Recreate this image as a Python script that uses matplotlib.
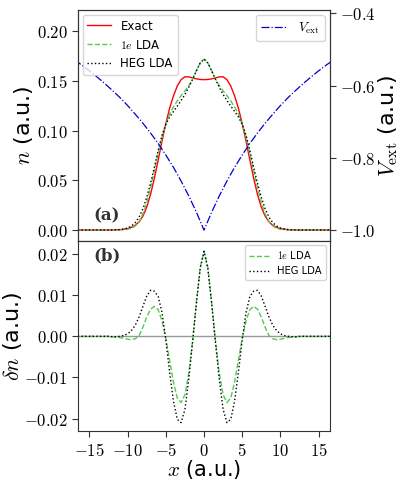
import numpy as np
import matplotlib
matplotlib.use("Agg")
import matplotlib.pyplot as plt
from matplotlib.ticker import FuncFormatter

plt.rcParams["mathtext.fontset"] = "cm"
plt.rcParams["font.family"] = ["DejaVu Sans"]

# half grid (x >= 0), curves are symmetric about x = 0
x_half = np.arange(0, 17.01, 0.5)
n_exact_half = [0.1512, 0.1514, 0.1520, 0.1530, 0.1540, 0.1541, 0.1512, 0.1448,
                0.1350, 0.1225, 0.1070, 0.0895, 0.0705, 0.0520, 0.0358, 0.0230,
                0.0140, 0.0082, 0.0047, 0.0026, 0.0014, 0.0008, 0.0004, 0.0002,
                0.0001] + [0.0] * 10
dn_1e_half = [0.0207, 0.0168, 0.0082, -0.0012, -0.0090, -0.0142, -0.0161, -0.0150,
              -0.0112, -0.0058, -0.0005, 0.0038, 0.0065, 0.0073, 0.0066, 0.0047,
              0.0022, 0.0002, -0.0006, -0.0008, -0.0007, -0.0005, -0.0003, -0.0002,
              -0.0001] + [0.0] * 10
dn_heg_half = [0.0207, 0.0165, 0.0080, -0.0015, -0.0105, -0.0178, -0.0210, -0.0202,
               -0.0158, -0.0088, -0.0008, 0.0058, 0.0097, 0.0110, 0.0112, 0.0098,
               0.0073, 0.0047, 0.0027, 0.0014, 0.0006, 0.0002, 0.0000, -0.0001,
               -0.0001] + [0.0] * 10

xv_half = np.arange(0, 18, 1.0)
v_half = [-1.000, -0.950, -0.905, -0.864, -0.826, -0.792, -0.760, -0.731, -0.704,
          -0.679, -0.655, -0.633, -0.613, -0.594, -0.576, -0.559, -0.543, -0.528]


def mirror(xh, yh):
    xh = np.asarray(xh)
    yh = np.asarray(yh)
    return np.concatenate([-xh[::-1], xh[1:]]), np.concatenate([yh[::-1], yh[1:]])


x, n_exact = mirror(x_half, n_exact_half)
_, dn_1e = mirror(x_half, dn_1e_half)
_, dn_heg = mirror(x_half, dn_heg_half)
xv, vext = mirror(xv_half, v_half)
n_1e = n_exact + dn_1e
n_heg = n_exact + dn_heg

c_green = "#55c855"
spine_c = "#333333"
fmt = FuncFormatter(lambda v, p: "$%.2f$" % v)

fig = plt.figure(figsize=(4.04, 4.84), dpi=100)
ax1 = fig.add_axes([0.193, 0.502, 0.624, 0.477])
ax2 = fig.add_axes([0.193, 0.109, 0.624, 0.393], sharex=ax1)
axv = ax1.twinx()

l1, = ax1.plot(x, n_exact, color="red", lw=1.0, label="Exact")
l2, = ax1.plot(x, n_1e, color=c_green, ls="--", lw=1.0, label="$1e$ LDA")
l3, = ax1.plot(x, n_heg, color="black", ls=":", lw=1.0, label="HEG LDA")
lv, = axv.plot(xv, vext, color="mediumblue", ls="-.", lw=0.9, label=r"$V_{\rm ext}$")

ax1.set_xlim(-16.5, 16.5)
ax1.set_ylim(-0.0111, 0.2211)
axv.set_ylim(-1.030, -0.391)
ax1.set_yticks([0.0, 0.05, 0.10, 0.15, 0.20])
axv.set_yticks([-1.0, -0.8, -0.6, -0.4])
ax1.yaxis.set_major_formatter(fmt)
axv.yaxis.set_major_formatter(FuncFormatter(lambda v, p: "$%.1f$" % v))
ax1.tick_params(axis="x", bottom=False, labelbottom=False)
ax1.set_ylabel("$n$ (a.u.)", fontsize=16, labelpad=1)
axv.set_ylabel(r"$V_{\rm ext}$ (a.u.)", fontsize=16, labelpad=0)

leg1 = axv.legend([l1, l2, l3], ["Exact", "$1e$ LDA", "HEG LDA"], loc="upper left",
                  fontsize=8.5, borderaxespad=0.4)
axv.add_artist(leg1)
axv.legend([lv], [r"$V_{\rm ext}$"], loc="upper right", fontsize=9.5, borderaxespad=0.4)
ax1.text(0.06, 0.11, "(a)", transform=ax1.transAxes, fontsize=12,
         fontfamily="DejaVu Serif", fontweight="bold", color="#333333",
         ha="left", va="center")

ax2.axhline(0, color="grey", lw=1.0, alpha=0.8)
ax2.plot(x, dn_1e, color=c_green, ls="--", lw=1.0, label="$1e$ LDA")
ax2.plot(x, dn_heg, color="black", ls=":", lw=1.0, label="HEG LDA")
ax2.set_ylim(-0.0231, 0.0232)
ax2.set_yticks([-0.02, -0.01, 0.0, 0.01, 0.02])
ax2.set_xticks([-15, -10, -5, 0, 5, 10, 15])
ax2.yaxis.set_major_formatter(fmt)
ax2.xaxis.set_major_formatter(FuncFormatter(lambda v, p: "$%d$" % v))
ax2.set_xlabel("$x$ (a.u.)", fontsize=15, labelpad=-1)
ax2.set_ylabel(r"$\delta n$ (a.u.)", fontsize=16, labelpad=0)
ax2.legend(loc="upper right", fontsize=7.2, borderaxespad=0.4)
ax2.text(0.06, 0.92, "(b)", transform=ax2.transAxes, fontsize=12,
         fontfamily="DejaVu Serif", fontweight="bold", color="#333333",
         ha="left", va="center")

for a in (ax1, ax2, axv):
    a.tick_params(labelsize=12, color=spine_c, length=4)
    for s in a.spines.values():
        s.set_color(spine_c)

fig.savefig("out.png", dpi=100)
